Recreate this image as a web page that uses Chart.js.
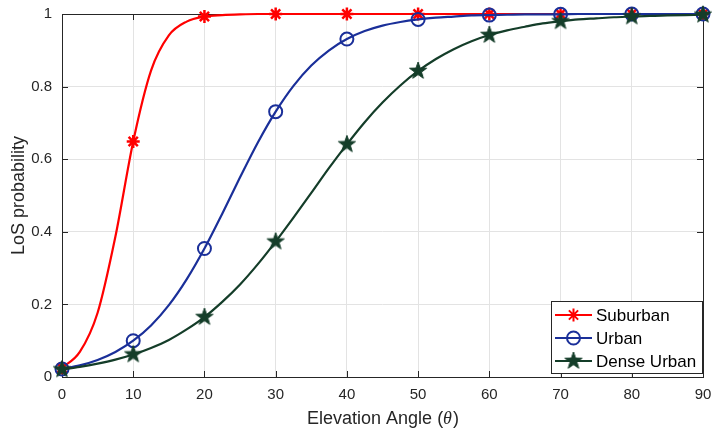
<!DOCTYPE html>
<html>
<head>
<meta charset="utf-8">
<script src="https://cdn.jsdelivr.net/npm/chart.js@4"></script>
<style>
  html, body { margin: 0; padding: 0; background: #fff; }
  #wrap { width: 713px; height: 434px; }
</style>
</head>
<body>
<div id="wrap"><canvas id="los" width="713" height="434"></canvas></div>
<script>
// values (every 2.5 deg), markers at every 10 deg
const angles = [0, 2.5, 5, 7.5, 10, 12.5, 15, 17.5, 20, 22.5, 25, 27.5, 30, 32.5, 35, 37.5, 40, 42.5, 45,
  47.5, 50, 52.5, 55, 57.5, 60, 62.5, 65, 67.5, 70, 72.5, 75, 77.5, 80, 82.5, 85, 87.5, 90];
const suburban = [0.025, 0.069, 0.177, 0.387, 0.649, 0.844, 0.941, 0.979, 0.993, 0.997, 0.999, 1, 1, 1, 1,
  1, 1, 1, 1, 1, 1, 1, 1, 1, 1, 1, 1, 1, 1, 1, 1, 1, 1, 1, 1, 1, 1];
const urban = [0.022, 0.032, 0.047, 0.069, 0.100, 0.142, 0.198, 0.269, 0.354, 0.450, 0.550, 0.646, 0.731,
  0.802, 0.858, 0.900, 0.931, 0.953, 0.968, 0.978, 0.985, 0.990, 0.993, 0.996, 0.997, 0.998, 0.999, 0.999,
  0.999, 1, 1, 1, 1, 1, 1, 1, 1];
const denseUrban = [0.021, 0.028, 0.037, 0.048, 0.062, 0.080, 0.102, 0.131, 0.165, 0.207, 0.255, 0.311,
  0.373, 0.439, 0.507, 0.576, 0.641, 0.702, 0.756, 0.803, 0.843, 0.876, 0.903, 0.925, 0.942, 0.955, 0.965,
  0.974, 0.980, 0.985, 0.988, 0.991, 0.993, 0.995, 0.996, 0.997, 0.998];
const seriesNames = ['Suburban', 'Urban', 'Dense Urban'];
const xTicks = [0, 10, 20, 30, 40, 50, 60, 70, 80, 90];
const yTicks = [0, 0.2, 0.4, 0.6, 0.8, 1];
const yTickLabels = ['0', '0.2', '0.4', '0.6', '0.8', '1'];

const RED = '#ff0000', BLUE = '#1a2f99', GREEN = '#143d29';
const AX = '#262626';
const FONT = '"Liberation Sans", Arial, Helvetica, sans-serif';

// filled pentagram marker
function makeStar(color, r) {
  const c = document.createElement('canvas');
  const s = Math.ceil(r * 2 + 4);
  c.width = s; c.height = s;
  const g = c.getContext('2d');
  g.translate(s / 2, s / 2);
  g.beginPath();
  for (let i = 0; i < 10; i++) {
    const rr = i % 2 === 0 ? r : r * 0.4;
    const a = -Math.PI / 2 + i * Math.PI / 5;
    g.lineTo(rr * Math.cos(a), rr * Math.sin(a));
  }
  g.closePath();
  g.fillStyle = color;
  g.strokeStyle = color;
  g.lineWidth = 1;
  g.fill();
  g.stroke();
  return c;
}
const starImg = makeStar(GREEN, 9);

const toPts = vals => vals.map((v, i) => ({ x: angles[i], y: v }));
const markerAt = r => ctx => (angles[ctx.dataIndex] % 10 === 0 ? r : 0);

const boxPlugin = {
  id: 'box',
  beforeDatasetsDraw(chart) {
    const { ctx, chartArea: a, scales } = chart;
    ctx.save();
    ctx.strokeStyle = AX;
    ctx.lineWidth = 1;
    ctx.strokeRect(Math.round(a.left) + 0.5, Math.round(a.top) + 0.5,
      Math.round(a.right - a.left), Math.round(a.bottom - a.top));
    ctx.beginPath();
    xTicks.forEach(t => {
      const x = Math.round(scales.x.getPixelForValue(t)) + 0.5;
      ctx.moveTo(x, a.bottom); ctx.lineTo(x, a.bottom - 6);
      ctx.moveTo(x, a.top); ctx.lineTo(x, a.top + 6);
    });
    yTicks.forEach(t => {
      const y = Math.round(scales.y.getPixelForValue(t)) + 0.5;
      ctx.moveTo(a.left, y); ctx.lineTo(a.left + 6, y);
      ctx.moveTo(a.right, y); ctx.lineTo(a.right - 6, y);
    });
    ctx.stroke();
    ctx.restore();
  },
  afterDraw(chart) {
    const { ctx, chartArea: a } = chart;
    ctx.save();
    // x axis title with italic theta
    const parts = [
      ['Elevation Angle (', '18px ' + FONT],
      ['\u03b8', 'italic 18px "Liberation Serif", "DejaVu Serif", serif'],
      [')', '18px ' + FONT]
    ];
    let total = 0;
    parts.forEach(p => { ctx.font = p[1]; total += ctx.measureText(p[0]).width; });
    let x = (a.left + a.right) / 2 - total / 2;
    ctx.fillStyle = AX;
    ctx.textBaseline = 'middle';
    parts.forEach(p => {
      ctx.font = p[1];
      ctx.fillText(p[0], x, 419);
      x += ctx.measureText(p[0]).width + (p[0] === '\u03b8' ? 1 : 0);
    });

    // legend box, bottom right
    const bx = 551.5, by = 301.5, bw = 151, bh = 72;
    ctx.fillStyle = '#fff';
    ctx.fillRect(bx, by, bw, bh);
    ctx.strokeStyle = AX;
    ctx.lineWidth = 1;
    ctx.strokeRect(bx, by, bw, bh);
    const rows = [315, 338, 361];
    chart.data.datasets.forEach((ds, i) => {
      const y = rows[i];
      ctx.strokeStyle = ds.borderColor;
      ctx.lineWidth = 2;
      ctx.beginPath();
      ctx.moveTo(555, y); ctx.lineTo(592, y);
      ctx.stroke();
      ctx.fillStyle = ds.pointBackgroundColor;
      ctx.strokeStyle = ds.borderColor;
      Chart.helpers.drawPoint(ctx, {
        pointStyle: ds.pointStyle, radius: ds.legendRadius, borderWidth: 2, rotation: 0
      }, 573.5, y);
      ctx.fillStyle = '#000';
      ctx.font = '17px ' + FONT;
      ctx.textBaseline = 'middle';
      ctx.fillText(seriesNames[i], 596, y + 1);
    });
    ctx.restore();
  }
};

new Chart(document.getElementById('los').getContext('2d'), {
  type: 'line',
  data: {
    datasets: [
      {
        label: seriesNames[0], data: toPts(suburban), order: 2,
        borderColor: RED, backgroundColor: RED, pointBackgroundColor: RED,
        pointStyle: 'star', pointRadius: markerAt(6.5), legendRadius: 6.5, pointBorderWidth: 2.5
      },
      {
        label: seriesNames[1], data: toPts(urban), order: 1,
        borderColor: BLUE, backgroundColor: BLUE, pointBackgroundColor: 'rgba(0,0,0,0)',
        pointStyle: 'circle', pointRadius: markerAt(6.5), legendRadius: 6.5, pointBorderWidth: 2
      },
      {
        label: seriesNames[2], data: toPts(denseUrban), order: 0,
        borderColor: GREEN, backgroundColor: GREEN, pointBackgroundColor: GREEN,
        pointStyle: starImg, pointRadius: markerAt(9), legendRadius: 9, pointBorderWidth: 1
      }
    ]
  },
  options: {
    responsive: false,
    animation: false,
    events: [],
    clip: false,
    layout: { padding: { top: 14, right: 10, left: 0, bottom: 0 } },
    elements: {
      line: { borderWidth: 2.2, cubicInterpolationMode: 'monotone', fill: false },
      point: { hoverRadius: 0 }
    },
    plugins: { legend: { display: false }, tooltip: { enabled: false } },
    scales: {
      x: {
        type: 'linear', min: 0, max: 90,
        afterFit: s => { s.height = 57; s.paddingLeft = 0; s.paddingRight = 0; },
        afterBuildTicks: s => { s.ticks = xTicks.map(v => ({ value: v })); },
        border: { display: false },
        grid: { color: '#e3e3e3', drawTicks: false },
        ticks: { color: AX, padding: 9, font: { family: FONT, size: 15 } }
      },
      y: {
        type: 'linear', min: 0, max: 1,
        afterFit: s => { s.width = 62; s.paddingTop = 0; s.paddingBottom = 0; },
        afterBuildTicks: s => { s.ticks = yTicks.map(v => ({ value: v })); },
        border: { display: false },
        grid: { color: '#e3e3e3', drawTicks: false },
        ticks: {
          color: AX, padding: 10, font: { family: FONT, size: 15 },
          callback: (v, i) => yTickLabels[i]
        },
        title: {
          display: true, text: 'LoS probability', color: AX,
          font: { family: FONT, size: 18 }, padding: { top: 8, bottom: 0 }
        }
      }
    }
  },
  plugins: [boxPlugin]
});
</script>
</body>
</html>
